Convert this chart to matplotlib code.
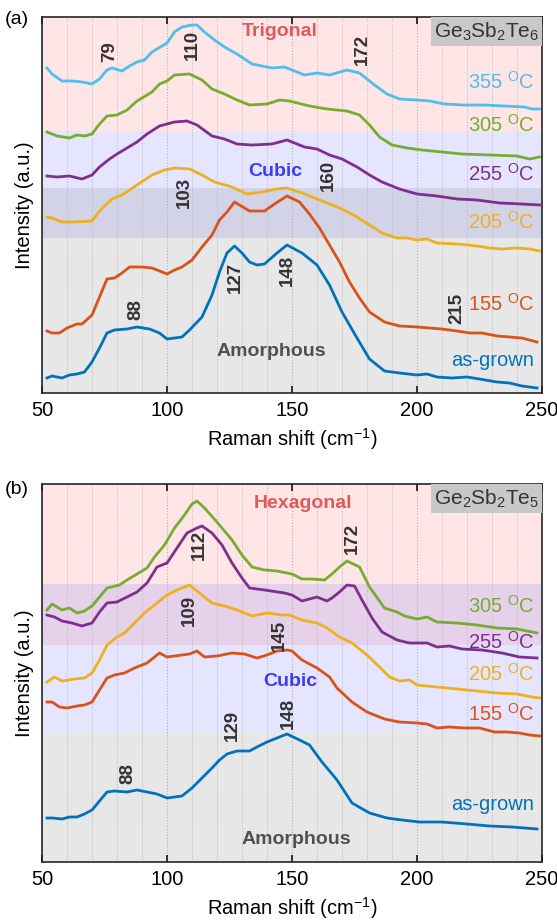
import matplotlib
matplotlib.use('Agg')
import matplotlib.pyplot as plt
from matplotlib.ticker import MultipleLocator
from matplotlib.patches import Rectangle

plt.rcParams['font.family'] = ['Liberation Sans', 'DejaVu Sans']
plt.rcParams['mathtext.fontset'] = 'custom'
plt.rcParams['mathtext.rm'] = 'Liberation Sans'
plt.rcParams['mathtext.it'] = 'Liberation Sans:italic'
plt.rcParams['mathtext.bf'] = 'Liberation Sans:bold'

# ---------------- Panel (a): Ge3Sb2Te6 ----------------
a_x_asgrown = [52,54,58,61,64,67,70,73,76,79,84,88,93,97,100,106,109,114,118,121,124,127,130,133,136,139,144,148,154,160,165,170,176,181,187,193,200,204,208,214,220,225,232,237,242,248]
a_y_asgrown = [15,17,15,18,19,21,31,45,60,63,64,66,64,60,54,56,63,76,98,121,140,147,140,131,128,129,140,148,140,128,108,81,55,34,22,20,18,19,16,15,16,14,11,10,7,5]

a_x_155 = [52,54,57,60,64,66,70,73,76,79,82,85,90,94,100,103,106,110,114,118,121,124,127,133,139,143,148,153,157,161,165,169,173,177,181,187,193,200,205,210,216,221,226,232,237,242,248]
a_y_155 = [62,60,60,65,69,69,78,96,114,115,120,126,126,125,119,123,126,133,146,158,173,181,191,182,182,189,197,191,179,165,148,131,111,95,81,71,67,66,65,64,62,60,60,57,56,55,51]

a_x_205 = [52,54,58,63,70,73,75,78,82,88,94,99,103,109,114,119,126,132,138,144,148,154,160,166,170,176,181,186,192,196,200,204,208,216,224,229,234,240,245,249]
a_y_205 = [176,175,171,171,172,182,187,194,198,208,218,223,225,224,218,211,206,199,201,204,205,200,194,188,184,176,168,160,155,155,153,154,150,149,147,145,144,145,144,142]

a_x_255 = [52,56,61,66,70,73,77,80,84,88,92,97,103,108,112,118,123,128,134,142,148,155,160,165,170,176,181,186,193,200,208,216,224,233,242,249]
a_y_255 = [217,216,217,214,218,226,234,239,245,251,259,267,271,272,268,257,254,249,248,249,253,246,244,238,234,226,218,211,204,199,197,194,193,190,189,188]

a_x_305 = [52,56,61,64,67,70,73,76,80,84,88,94,97,100,103,109,114,118,123,128,133,140,145,149,157,164,172,177,181,185,190,196,202,210,218,229,240,245,249]
a_y_305 = [261,257,255,258,257,259,269,277,278,283,292,301,309,312,318,319,313,304,299,293,288,289,293,292,287,284,282,278,268,256,248,245,243,241,239,238,237,234,236]

a_x_355 = [52,54,58,62,66,70,73,76,78,82,85,88,91,94,100,103,106,110,112,115,119,123,128,134,142,147,150,155,160,165,172,177,183,188,193,200,205,211,219,227,235,243,246,249]
a_y_355 = [325,319,312,312,311,309,314,323,325,322,327,331,333,341,350,361,366,368,368,361,353,346,339,329,325,326,323,318,320,318,323,320,308,299,294,293,292,289,288,288,287,286,284,284]

a_labels = ['as-grown', '155', '205', '255', '305', '355']
a_label_y = [33, 89, 171, 219, 268, 311]
a_peaks = ['79', '110', '172', '103', '160', '88', '127', '148', '215']
a_peak_x = [77, 110, 178, 107, 164.5, 87.7, 127.3, 148.1, 216]
a_peak_y = [341, 348, 344, 201, 218, 84, 116, 123, 85]
a_phases = ['Trigonal', 'Cubic', 'Amorphous']
a_phase_x = [145, 143.3, 141.8]
a_phase_y = [361, 222, 41]
a_bands = {'pink': (262, 376), 'blue': (155, 262), 'grey': (0, 205)}

# ---------------- Panel (b): Ge2Sb2Te5 ----------------
b_x_asgrown = [52,54,58,61,64,67,70,73,76,79,84,88,92,96,100,106,110,114,118,121,124,128,133,136,140,144,148,153,157,162,168,174,181,188,194,201,210,220,229,238,248]
b_y_asgrown = [44,44,43,45,45,48,52,61,70,71,70,72,70,68,64,66,74,84,94,102,108,111,111,115,120,124,128,122,117,100,82,59,49,44,42,40,40,38,36,35,33]

b_x_155 = [52,54,57,60,64,67,70,73,76,79,83,87,92,97,100,106,109,112,115,120,126,131,136,140,144,148,150,154,160,165,168,174,180,187,193,200,204,208,213,219,225,231,236,241,245,249]
b_y_155 = [160,160,155,154,156,157,160,172,184,187,189,194,199,209,205,207,208,211,205,206,209,208,204,207,211,212,211,202,194,185,174,160,150,143,140,139,138,134,135,134,134,130,130,129,127,126]

b_x_205 = [52,55,58,63,67,70,73,76,80,83,87,91,95,100,104,109,114,118,123,128,134,140,146,149,154,160,164,169,174,180,185,189,193,197,200,208,216,224,232,240,246,249]
b_y_205 = [180,185,181,183,184,189,202,217,225,229,239,249,257,267,272,277,267,259,256,252,246,249,247,247,242,239,234,225,219,207,195,185,181,182,177,175,173,171,169,168,165,164]

b_x_255 = [52,55,58,62,66,70,73,76,80,84,88,92,96,100,104,108,112,114,118,122,126,130,133,139,147,150,154,160,164,166,169,172,175,178,182,186,192,197,204,208,213,218,226,234,241,248]
b_y_255 = [247,245,241,239,236,239,250,259,260,265,270,279,295,299,314,329,334,336,329,317,299,284,274,272,269,267,261,265,261,264,270,277,276,262,244,230,222,219,219,215,216,213,212,209,205,204]

b_x_305 = [52,54,58,61,64,67,70,73,76,81,84,88,92,95,99,103,107,110,112,115,120,126,130,134,139,144,150,154,158,163,166,169,172,177,181,187,192,195,200,204,208,216,224,232,240,248]
b_y_305 = [252,258,252,254,249,251,256,265,274,277,282,288,294,305,317,334,347,358,361,354,340,322,307,295,292,291,288,283,283,282,288,295,301,295,275,254,250,246,243,245,240,239,237,234,233,229]

b_labels = ['as-grown', '155', '205', '255', '305']
b_label_y = [57, 148, 188, 220, 256]
b_peaks = ['112', '172', '109', '145', '129', '148', '88']
b_peak_x = [113.1, 174.3, 109.1, 145.1, 126, 148.7, 84.4]
b_peak_y = [317, 324, 252, 227, 137, 149, 89]
b_phases = ['Hexagonal', 'Cubic', 'Amorphous']
b_phase_x = [154.5, 149.5, 151.8]
b_phase_y = [358, 181, 22]
b_bands = {'pink': (217, 378), 'blue': (130, 278), 'grey': (0, 130)}

colors = {'as-grown': '#0072BD', '155': '#D95319', '205': '#EDB120',
          '255': '#7E2F8E', '305': '#77AC30', '355': '#4DBEEE'}
band_colors = {'pink': ((1.0, 0.55, 0.55), 0.22),
               'blue': ((0.55, 0.55, 1.0), 0.22),
               'grey': ((0.6, 0.6, 0.6), 0.23)}
phase_colors = ['#E05A5A', '#3C3CF5', '#505050']

fig = plt.figure(figsize=(5.57, 9.24), dpi=100)
ax_a = fig.add_axes([42/557, (924-393)/924, 500/557, 376/924])
ax_b = fig.add_axes([42/557, (924-862)/924, 500/557, 378/924])


def setup(ax, ytop, bands, series, labels, label_y, peaks, px, py,
          phases, phx, phy, compound):
    for name in ['pink', 'blue', 'grey']:
        lo, hi = bands[name]
        c, al = band_colors[name]
        ax.axhspan(lo, hi, color=c, alpha=al, lw=0, zorder=0.1)
    ax.set_xlim(50, 250)
    ax.set_ylim(0, ytop)
    ax.xaxis.set_major_locator(MultipleLocator(50))
    ax.xaxis.set_minor_locator(MultipleLocator(10))
    ax.set_yticks([])
    ax.tick_params(axis='x', which='major', direction='in', top=True,
                   length=5, width=1.1, labelsize=14.5, pad=6)
    ax.tick_params(axis='x', which='minor', length=0)
    ax.set_axisbelow(True)
    ax.grid(True, axis='x', which='minor', color='#b8b8b8', ls=':', lw=0.7)
    ax.grid(True, axis='x', which='major', color='#b0b0b0', ls=':', lw=0.8)
    for s in ax.spines.values():
        s.set_linewidth(1.2)
        s.set_color('#262626')
    for key, (xs, ys) in series.items():
        ax.plot(xs, ys, color=colors[key], lw=2.0, zorder=3)
    for lab, y in zip(labels, label_y):
        txt = lab if lab == 'as-grown' else lab + r' $^{\mathrm{O}}$C'
        ax.text(247, y, txt, color=colors[lab], fontsize=14.5,
                ha='right', va='center', zorder=4)
    for t, x, y in zip(peaks, px, py):
        ax.text(x, y, t, rotation=90, ha='center', va='center',
                fontsize=13.5, fontweight='bold', color='#333333', zorder=4)
    for t, x, y, c in zip(phases, phx, phy, phase_colors):
        ax.text(x, y, t, ha='center', va='center', fontsize=14,
                fontweight='bold', color=c, zorder=4)
    # compound tag box, flush with the top-right corner
    hfrac = 29 / (ytop)
    ax.add_patch(Rectangle((0.778, 1 - hfrac), 0.222, hfrac,
                           transform=ax.transAxes, fc='#c8c8c8', ec='none',
                           zorder=4))
    ax.text(0.889, 1 - hfrac / 2, compound, transform=ax.transAxes,
            ha='center', va='center', fontsize=15, color='#333333', zorder=5)
    ax.set_xlabel(r'Raman shift (cm$^{-1}$)', fontsize=14.5, labelpad=4)
    ax.set_ylabel('Intensity (a.u.)', fontsize=14.5, labelpad=6)


setup(ax_a, 376, a_bands,
      {'as-grown': (a_x_asgrown, a_y_asgrown), '155': (a_x_155, a_y_155),
       '205': (a_x_205, a_y_205), '255': (a_x_255, a_y_255),
       '305': (a_x_305, a_y_305), '355': (a_x_355, a_y_355)},
      a_labels, a_label_y, a_peaks, a_peak_x, a_peak_y,
      a_phases, a_phase_x, a_phase_y, r'Ge$_3$Sb$_2$Te$_6$')
setup(ax_b, 378, b_bands,
      {'as-grown': (b_x_asgrown, b_y_asgrown), '155': (b_x_155, b_y_155),
       '205': (b_x_205, b_y_205), '255': (b_x_255, b_y_255),
       '305': (b_x_305, b_y_305)},
      b_labels, b_label_y, b_peaks, b_peak_x, b_peak_y,
      b_phases, b_phase_x, b_phase_y, r'Ge$_2$Sb$_2$Te$_5$')

fig.text(5/557, 1 - 20/924, '(a)', fontsize=14, ha='left', va='center')
fig.text(5/557, 1 - 490/924, '(b)', fontsize=14, ha='left', va='center')

fig.savefig('out.png', dpi=100)
